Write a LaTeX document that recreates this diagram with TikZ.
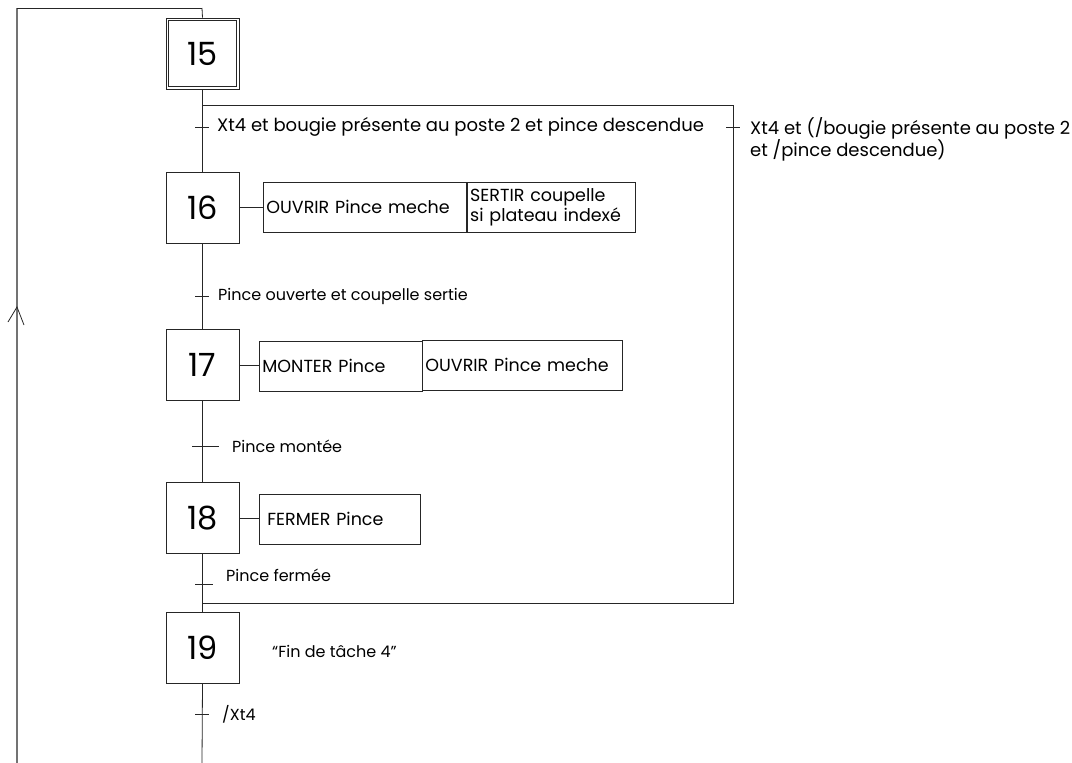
\documentclass[tikz,border=0pt]{standalone}
\usepackage{fontspec}
\setmainfont{Poppins}
\usetikzlibrary{calc}
\begin{document}
\begin{tikzpicture}[x=1pt,y=-1pt,
  ln/.style={line width=0.8pt, draw=black!85},
  loopln/.style={line width=1.4pt, draw=black!55},
  stepbox/.style={draw=black!85, line width=0.8pt, minimum width=73pt, minimum height=71pt, inner sep=0pt, font=\fontsize{32}{34}\selectfont},
  actbox/.style={draw=black!85, line width=0.8pt, minimum height=50pt, inner xsep=3pt, inner ysep=0pt, text width=#1, align=left, anchor=west, font=\fontsize{17.5}{20}\selectfont},
  cond/.style={anchor=west, inner sep=0pt, font=\fontsize{16}{22}\selectfont, align=left},
  bigcond/.style={cond, font=\fontsize{18}{22}\selectfont},
]
\useasboundingbox (0,0) rectangle (1072,763);
% steps
\node[stepbox] (s15) at (202.5,53.5) {15};
\draw[ln] ($(s15.north west)+(3,3)$) rectangle ($(s15.south east)+(-3,-3)$);
\node[stepbox] (s16) at (202.5,207.5) {16};
\node[stepbox] (s17) at (202.5,365) {17};
\node[stepbox] (s18) at (202.5,518) {18};
\node[stepbox] (s19) at (202.5,647.5) {19};
% coordinates
\coordinate (top) at (202,8);
\coordinate (bot) at (202,763);
\coordinate (tl) at (17,8);
\coordinate (bl) at (17,763);
\coordinate (ar) at (17,307);
\coordinate (b1) at (202,105);
\coordinate (br1) at (733,105);
\coordinate (br2) at (733,603);
\coordinate (b2) at (202,603);
\coordinate (t1) at (202,127);
\coordinate (t1b) at (733,127);
\coordinate (t2) at (202,296);
\coordinate (t3) at (202,446);
\coordinate (t4) at (202,584);
\coordinate (t5) at (202,714);
% main line
\draw[ln] (top) -- (s15.north);
\draw[ln] (s15.south) -- (s16.north);
\draw[ln] (s16.south) -- (s17.north);
\draw[ln] (s17.south) -- (s18.north);
\draw[ln] (s18.south) -- (s19.north);
\draw[ln] (s19.south) -- (bot);
% loop back
\draw[loopln] (bl) -- (tl);
\draw[ln] (tl) -- (top);
\draw[ln] ($(ar)+(-9,15)$) -- (ar) -- ($(ar)+(7,18)$);
% alternative branch
\draw[ln] (b1) -- (br1) -- (br2) -- (b2);
% ticks
\draw[ln] ($(t1)+(-7,0)$) -- ($(t1)+(7,0)$);
\draw[ln] ($(t1b)+(-7,0)$) -- ($(t1b)+(7,0)$);
\draw[ln] ($(t2)+(-7,0)$) -- ($(t2)+(7,0)$);
\draw[ln] ($(t3)+(-10,0)$) -- ($(t3)+(17,0)$);
\draw[ln] ($(t4)+(-7,0)$) -- ($(t4)+(11,0)$);
\draw[ln] ($(t5)+(-7,0)$) -- ($(t5)+(7,0)$);
% conditions
\node[bigcond] (c1) at (217,127) {Xt4 et bougie présente au poste 2 et pince descendue};
\node[bigcond, anchor=north west] (c1b) at (750,117) {Xt4 et (/bougie présente au poste 2\\et /pince descendue)};
\node[cond] (c2) at (218,296) {Pince ouverte et coupelle sertie};
\node[cond] (c3) at (232,446) {Pince montée};
\node[cond] (c4) at (226,575) {Pince fermée};
\node[cond] (n19) at (272,651) {“Fin de tâche 4”};
\node[cond] (c5) at (222,714) {/Xt4};
% actions
\node[actbox=197pt] (a16a) at (263,207) {OUVRIR Pince meche};
\node[actbox=162pt] (a16b) at (a16a.east) {SERTIR coupelle\\si plateau indexé};
\node[actbox=157pt, inner xsep=3pt] (a17a) at (259,366) {MONTER Pince};
\node[actbox=194pt] (a17b) at (422,365) {OUVRIR Pince meche};
\node[actbox=145pt, inner xsep=8pt] (a18) at (259,519) {FERMER Pince};
\draw[ln] (s16.east) -- (s16.east -| a16a.west);
\draw[ln] (s17.east) -- (s17.east -| a17a.west);
\draw[ln] (s18.east) -- (s18.east -| a18.west);
\end{tikzpicture}
\end{document}
